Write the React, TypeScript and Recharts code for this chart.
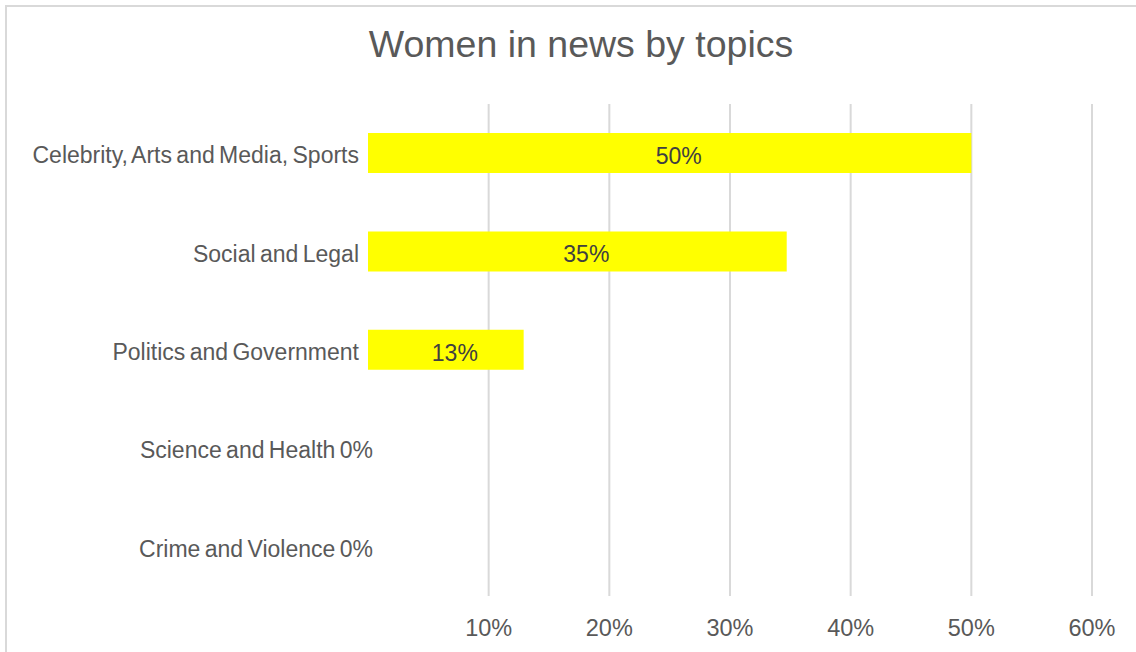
import React from 'react';
import { BarChart, Bar, XAxis, YAxis, CartesianGrid, LabelList } from 'recharts';

const topics = [
  'Celebrity, Arts and Media, Sports',
  'Social and Legal',
  'Politics and Government',
  'Science and Health',
  'Crime and Violence',
];
const shares = [0.5, 0.347, 0.129, 0, 0];
const xTicks = [0.1, 0.2, 0.3, 0.4, 0.5, 0.6];

const data = topics.map((topic, i) => ({ topic, share: shares[i] }));

const FONT = '"Liberation Sans", Arial, sans-serif';
const pct = (v: number) => `${Math.round(v * 100)}%`;

// category label; rows without a bar get their 0% written right after the name
const TopicTick = (props: any) => {
  const { x, y, payload, index } = props;
  const zero = shares[index] === 0;
  return (
    <text
      x={zero ? x + 14 : x}
      y={y}
      dy={10}
      textAnchor="end"
      fontSize={23}
      fill="#595959"
      fontFamily={FONT}
      wordSpacing={-2}
    >
      {zero ? `${payload.value} ${pct(0)}` : payload.value}
    </text>
  );
};

const ValueLabel = (props: any) => {
  const { x, y, width, height, value } = props;
  if (!value) return null;
  return (
    <text
      x={x + width / 2 + 9}
      y={y + height / 2}
      dy={11}
      textAnchor="middle"
      fontSize={23}
      fill="#404040"
      fontFamily={FONT}
    >
      {pct(value)}
    </text>
  );
};

export default function App() {
  return (
    <div
      style={{
        position: 'fixed',
        left: 0,
        top: 0,
        width: 1136,
        height: 652,
        overflow: 'hidden',
        background: '#fff',
      }}
    >
      {/* chart frame, right and bottom edges fall outside the crop */}
      <div
        style={{
          position: 'absolute',
          left: 5,
          top: 5,
          width: 1150,
          height: 670,
          border: '2px solid #d9d9d9',
        }}
      />
      <div
        style={{
          position: 'absolute',
          left: 0,
          width: 1162,
          top: 23,
          textAlign: 'center',
          fontFamily: FONT,
          fontSize: 37.5,
          color: '#595959',
        }}
      >
        Women in news by topics
      </div>
      <div style={{ position: 'absolute', left: 0, top: 0 }}>
        <BarChart
          width={1136}
          height={652}
          data={data}
          layout="vertical"
          margin={{ top: 104, right: 44, bottom: 0, left: 8 }}
          barSize={40}
        >
          <CartesianGrid horizontal={false} stroke="#d9d9d9" strokeWidth={2} syncWithTicks />
          <XAxis
            type="number"
            domain={[0, 0.6]}
            ticks={xTicks}
            tickFormatter={pct}
            axisLine={false}
            tickLine={false}
            tickSize={0}
            tickMargin={23}
            height={56}
            tick={{ fontSize: 23.5, fill: '#595959', fontFamily: FONT }}
          />
          <YAxis
            type="category"
            dataKey="topic"
            width={360}
            axisLine={false}
            tickLine={false}
            tickSize={0}
            tickMargin={9}
            tick={<TopicTick />}
            interval={0}
          />
          <Bar dataKey="share" fill="#ffff00" isAnimationActive={false}>
            <LabelList dataKey="share" content={<ValueLabel />} />
          </Bar>
        </BarChart>
      </div>
    </div>
  );
}
